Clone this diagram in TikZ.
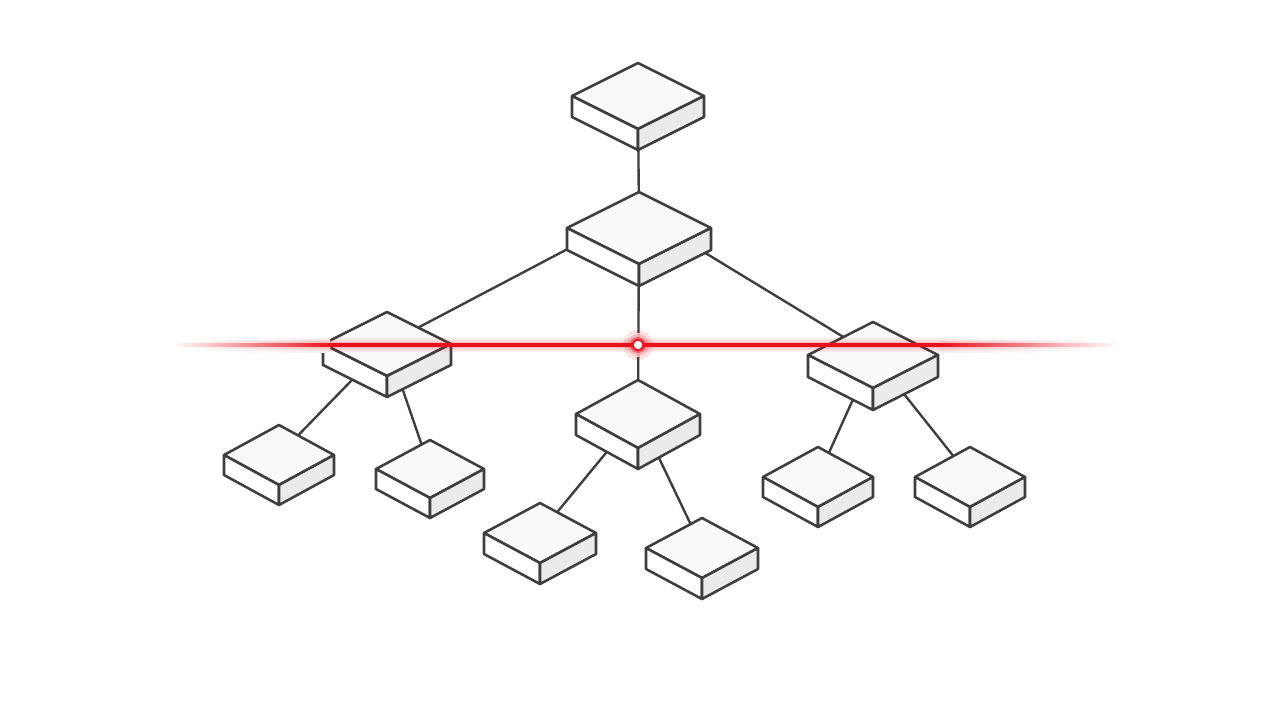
\documentclass[tikz,border=0pt]{standalone}
\usepackage{tikz}
\usetikzlibrary{positioning}
\definecolor{laserred}{RGB}{232,18,30}
\definecolor{edgegray}{RGB}{62,62,62}

% isometric box drawn round a named coordinate: name, half width, half height, thickness
\newcommand{\isobox}[4]{%
  \begin{scope}[shift={(#1)}]
    \filldraw[boxtop] (0,-#3) -- (#2,0) -- (0,#3) -- (-#2,0) -- cycle;
    \filldraw[boxleft] (-#2,0) -- (0,#3) -- (0,#3+#4) -- (-#2,#4) -- cycle;
    \filldraw[boxright] (0,#3) -- (#2,0) -- (#2,#4) -- (0,#3+#4) -- cycle;
  \end{scope}}

\begin{document}
\begin{tikzpicture}[x=0.02cm, y=-0.02cm,
        boxtop/.style={fill=gray!4, draw=edgegray, line width=1.45pt, line join=round},
        boxleft/.style={fill=white, draw=edgegray, line width=1.45pt, line join=round},
        boxright/.style={fill=gray!16, draw=edgegray, line width=1.45pt, line join=round},
        link/.style={draw=edgegray, line width=1.35pt},
        glow/.style={fill=laserred, opacity=#1}
    ]

    % Add background rectangle to fix the page size
    \fill[white] (0,0) rectangle (1280,720);
    \useasboundingbox (0,0) rectangle (1280,720);

    % Box centres (top faces)
    \coordinate (head) at (638,96);
    \coordinate (hub) at (639,228);
    \coordinate (hubOut) at (638,212);
    \coordinate (midL) at (387,344);
    \coordinate (midC) at (638,414);
    \coordinate (midR) at (873,355);
    \coordinate (leafLL) at (279,455);
    \coordinate (leafLR) at (430,469);
    \coordinate (leafCL) at (540,533);
    \coordinate (leafCR) at (702,548);
    \coordinate (leafRL) at (818,477);
    \coordinate (leafRR) at (970,477);
    \coordinate (spark) at (638,345);

    % Connectors behind the boxes
    \draw[link] (head) -- (hub);
    \draw[link] (hubOut) -- (midL);
    \draw[link] (hub) -- (midC);
    \draw[link] (hubOut) -- (midR);
    \draw[link] (midL) -- (leafLL);
    \draw[link] (midL) -- (leafLR);
    \draw[link] (midC) -- (leafCL);
    \draw[link] (midC) -- (leafCR);
    \draw[link] (midR) -- (leafRL);
    \draw[link] (midR) -- (leafRR);

    % Boxes
    \isobox{head}{66}{33}{21}
    \isobox{hub}{72}{36}{22}
    \isobox{midL}{64}{32}{21}
    \isobox{midR}{65}{33}{22}
    \isobox{midC}{62}{34}{21}
    \isobox{leafLL}{55}{30}{20}
    \isobox{leafLR}{54}{29}{20}
    \isobox{leafRL}{55}{30}{20}
    \isobox{leafRR}{55}{30}{20}
    \isobox{leafCL}{56}{30}{21}
    \isobox{leafCR}{56}{30}{21}

    % Soft wash round the bright point
    \fill[white, opacity=0.85] (spark) circle (12);

    % Red scan line: glow layers in the middle
    \fill[glow=0.08] (330,338) rectangle (940,352);
    \fill[glow=0.08] (330,340) rectangle (940,350);
    \fill[glow=0.15] (330,341.8) rectangle (940,348.2);
    % glow layers at both fading ends
    \shade[left color=white, right color=laserred!8] (215,338) rectangle (330,352);
    \shade[left color=white, right color=laserred!15] (200,340) rectangle (330,350);
    \shade[left color=white, right color=laserred!28] (185,341.8) rectangle (330,348.2);
    \shade[left color=laserred!8, right color=white] (940,338) rectangle (1070,352);
    \shade[left color=laserred!15, right color=white] (940,340) rectangle (1090,350);
    \shade[left color=laserred!28, right color=white] (940,341.8) rectangle (1105,348.2);
    % core of the line
    \shade[left color=white, right color=laserred] (172,343.4) rectangle (330,346.6);
    \fill[laserred] (330,343.4) rectangle (940,346.6);
    \shade[left color=laserred, right color=white] (940,343.4) rectangle (1118,346.6);

    % Glowing point on the line
    \fill[glow=0.12] (spark) circle (15);
    \fill[glow=0.18] (spark) circle (11);
    \fill[glow=0.45] (spark) circle (8);
    \fill[laserred] (spark) circle (6);
    \fill[white] (spark) circle (4.2);

\end{tikzpicture}
\end{document}
